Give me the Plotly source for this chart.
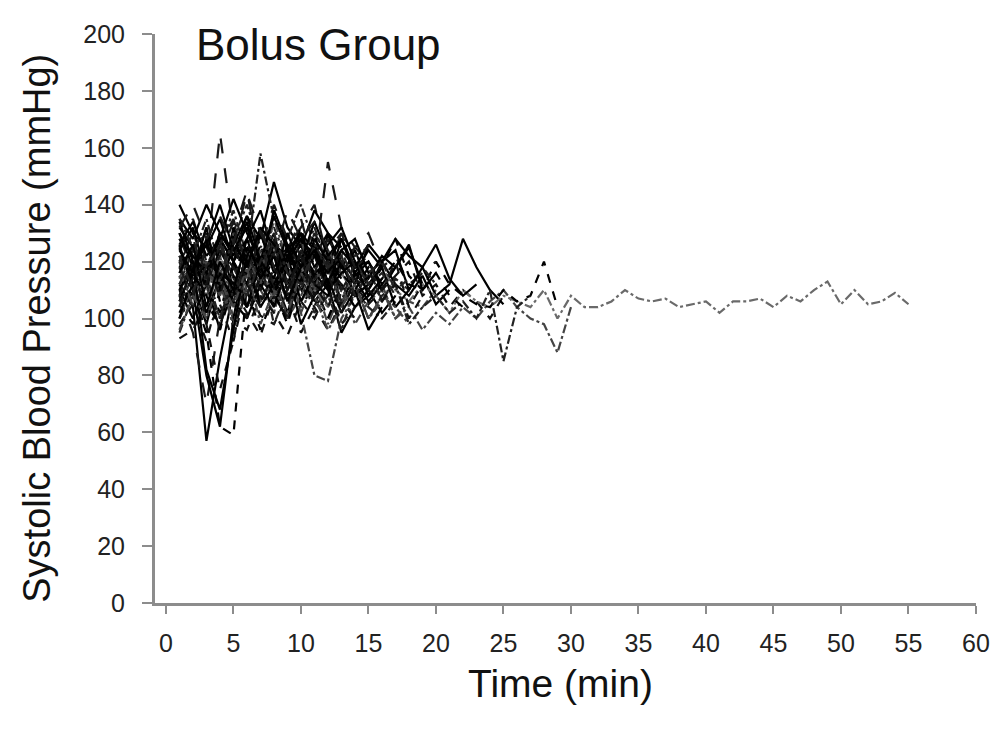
import plotly.graph_objects as go

# minutes at which systolic BP was recorded (each patient starts at minute 1)
minutes = list(range(1, 56))

# Systolic blood pressure (mmHg) per patient, one value per minute
p01 = [118, 125, 112, 130, 108, 121, 115, 127, 110, 119, 124, 113]
p02 = [105, 98, 115, 102, 120, 110, 96, 108, 118, 104, 112, 100, 109]
p03 = [130, 122, 135, 118, 128, 140, 125, 132, 120, 127, 115, 123]
p04 = [112, 104, 57, 86, 110, 120, 106, 115, 102, 118, 110]
p05 = [125, 135, 120, 165, 130, 145, 118, 138, 125, 132, 140, 120, 128, 118]
p06 = [100, 110, 95, 105, 92, 112, 101, 98, 108, 95, 104, 110, 99]
p07 = [122, 115, 128, 110, 132, 120, 112, 126, 118, 122, 108, 130, 115, 124, 112, 118]
p08 = [108, 118, 100, 122, 104, 115, 110, 102, 120, 106, 113, 98, 110, 104, 108, 112, 100, 106, 104, 110]
p09 = [135, 128, 140, 130, 122, 136, 128, 148, 132, 125, 138, 130, 125]
p10 = [115, 108, 95, 62, 59, 112, 118, 105, 122, 110, 116, 104]
p11 = [120, 130, 118, 125, 138, 122, 158, 135, 128, 140, 126, 118, 130, 122, 125]
p12 = [110, 100, 112, 96, 120, 104, 114, 108, 100, 118, 106, 112, 95, 104, 110, 102, 108]
p13 = [128, 118, 132, 112, 126, 120, 130, 116, 124, 135, 118, 155, 132, 125, 120]
p14 = [98, 105, 92, 110, 100, 96, 108, 102, 94, 106, 100, 110, 98, 104]
p15 = [125, 112, 120, 108, 130, 115, 122, 110, 126, 118, 112, 124, 105, 116, 110, 120, 112, 108, 115, 105, 110]
p16 = [104, 115, 108, 120, 100, 112, 118, 106, 114, 102, 80, 78, 100, 108, 112]
p17 = [132, 125, 118, 128, 120, 134, 116, 126, 122, 130, 112, 120, 128, 115, 120, 112, 118]
p18 = [112, 120, 128, 106, 118, 124, 110, 122, 116, 108, 126, 114, 120, 108, 115, 110]
p19 = [95, 108, 115, 100, 112, 104, 120, 98, 110, 116, 102, 108, 96, 110, 104, 100, 106]
p20 = [140, 130, 125, 135, 120, 128, 138, 122, 118, 130, 124, 112, 128, 118, 120, 110, 118, 125, 112]
p21 = [108, 95, 70, 100, 115, 108, 120, 112, 104, 118, 110, 106, 115, 108]
p22 = [118, 110, 125, 115, 105, 120, 112, 128, 108, 116, 122, 110, 118, 112, 105, 110, 115, 120, 108, 112,
       104, 110, 106, 100, 108]
p23 = [124, 132, 115, 128, 120, 112, 130, 118, 125, 114, 122, 130, 118, 112, 126, 120, 128, 122, 118, 108,
       112, 128, 118, 110, 105]
p24 = [100, 112, 104, 118, 96, 110, 106, 114, 100, 108, 118, 104, 112, 98, 106, 110, 100, 104, 96, 102,
       98, 104, 100, 106, 110, 104, 100, 98, 88, 104]
p25 = [112, 118, 110, 122, 108, 115, 120, 106, 112, 118, 110, 104, 116, 108, 112, 118, 110, 106, 112, 108,
       102, 110, 106, 104, 108, 106, 104, 110, 100, 108, 104, 104, 106, 110, 107, 106, 107, 104, 105, 106,
       102, 106, 106, 107, 104, 108, 106, 110, 113, 105, 110, 105, 106, 109, 105]
p26 = [116, 124, 110, 130, 118, 112, 126, 108, 120, 132, 114, 122, 118, 125, 110, 118, 128, 115, 110, 120,
       112, 108, 105, 104, 110, 106, 108, 120, 104]
p27 = [120, 104, 112, 100, 118, 108, 124, 112, 100, 116, 108, 120, 104, 112, 100, 108, 112, 98, 104, 108,
       102, 106, 100, 110, 85, 104, 108]
p28 = [106, 118, 112, 124, 115, 104, 120, 110, 118, 126, 112, 108, 120, 114, 106, 112]
p29 = [130, 120, 112, 126, 135, 118, 124, 140, 128, 116, 130, 122, 118, 125, 130, 118, 122, 112, 116, 120]
p30 = [93, 96, 105, 98, 110, 102, 94, 108, 100, 112, 104, 96, 106, 100]
p31 = [126, 110, 80, 62, 100, 125, 118, 130, 112, 124, 116, 120, 110]
p32 = [114, 126, 118, 108, 130, 122, 112, 135, 120, 128, 110, 124, 116, 120, 112]
p33 = [110, 118, 102, 114, 108, 120, 104, 112, 122, 106, 116, 110, 120, 108, 112, 118, 104, 110]
p34 = [122, 114, 130, 120, 112, 126, 118, 110, 124, 116, 130, 112, 122, 118, 108, 114, 120, 112, 110, 116,
       108, 104]
p35 = [135, 125, 130, 115, 128, 122, 118, 126, 112, 120, 132, 118, 124, 112, 118, 106, 114, 110, 118, 112]
p36 = [102, 112, 98, 116, 106, 100, 112, 104, 118, 98, 108, 114, 102, 110, 96, 104]
p37 = [120, 128, 114, 122, 134, 118, 126, 110, 130, 122, 116, 128, 120, 114]
p38 = [108, 122, 98, 75, 92, 118, 110, 124, 106, 120, 112, 104, 116]
p39 = [130, 118, 126, 140, 124, 132, 118, 138, 126, 120, 134, 122, 128, 116, 124, 118]
p40 = [115, 105, 120, 112, 98, 116, 124, 108, 120, 102, 114, 118, 106, 112, 100, 108, 104, 98]
p41 = [126, 134, 122, 128, 142, 130, 120, 136, 124, 130, 118, 126, 132, 120, 114, 122, 118, 126, 110, 116]
p42 = [100, 116, 108, 96, 112, 104, 120, 110, 98, 114, 106, 100, 112, 104, 108]
p43 = [112, 124, 118, 130, 106, 122, 114, 128, 116, 110, 124, 118, 106, 120, 112, 116, 108]
p44 = [134, 120, 82, 68, 96, 122, 130, 116, 124, 112, 128, 120, 114]
p45 = [118, 108, 126, 114, 120, 110, 132, 118, 106, 124, 114, 120, 110, 118, 122, 106, 114]
p46 = [104, 120, 112, 124, 118, 100, 116, 128, 110, 122, 104, 118, 112, 108, 116, 110, 120, 104, 112]
p47 = [124, 116, 132, 110, 126, 136, 120, 114, 130, 118, 126, 112, 124, 128, 116, 120, 124, 110, 118, 126,
       114, 108, 112]
p48 = [96, 108, 100, 114, 104, 118, 98, 110, 102, 116, 108, 96, 104, 112, 100, 106]
p49 = [128, 122, 116, 130, 124, 118, 132, 126, 120, 128, 122, 116, 124, 118, 126]
p50 = [110, 120, 126, 116, 112, 124, 118, 108, 122, 128, 114, 120, 116, 110, 118, 112]
p51 = [122, 110, 118, 126, 114, 108, 120, 130, 116, 112, 126, 118, 122, 108, 116, 120, 110, 114]
p52 = [116, 126, 104, 120, 110, 128, 114, 122, 106, 118, 124, 110, 116, 120, 108, 114]
p53 = [132, 140, 128, 136, 126, 144, 130, 122, 138, 128, 134, 124, 130, 118, 126]
p54 = [106, 114, 120, 108, 126, 112, 104, 118, 110, 124, 108, 116, 102, 114, 110, 106, 112, 100, 108]

patients = [p01, p02, p03, p04, p05, p06, p07, p08, p09, p10, p11, p12, p13, p14, p15, p16, p17, p18,
            p19, p20, p21, p22, p23, p24, p25, p26, p27, p28, p29, p30, p31, p32, p33, p34, p35, p36,
            p37, p38, p39, p40, p41, p42, p43, p44, p45, p46, p47, p48, p49, p50, p51, p52, p53, p54]

y_ticks = [0, 20, 40, 60, 80, 100, 120, 140, 160, 180, 200]
x_ticks = [0, 5, 10, 15, 20, 25, 30, 35, 40, 45, 50, 55, 60]

dash_styles = ["solid", "dash", "dashdot", "solid", "longdash", "dash", "solid", "dashdot"]
line_colors = ["#000000", "#000000", "#222222", "#000000", "#1a1a1a", "#111111", "#000000", "#444444"]

fig = go.Figure()
for i, vals in enumerate(patients):
    dash = dash_styles[i % len(dash_styles)]
    color = line_colors[i % len(line_colors)]
    if vals is p25:
        dash, color = "dashdot", "#6a6a6a"
    fig.add_trace(go.Scatter(
        x=minutes[:len(vals)], y=vals, mode="lines",
        line=dict(color=color, width=2.2, dash=dash),
        showlegend=False, hoverinfo="skip",
    ))

font_family = "Liberation Sans, Arial, sans-serif"
axis_common = dict(
    showline=True, linecolor="#8c8c8c", linewidth=3,
    ticks="outside", tickwidth=2, tickcolor="#8c8c8c",
    showgrid=False, zeroline=False,
    tickfont=dict(family=font_family, size=25, color="#222222"),
)

fig.update_layout(
    width=1000, height=732,
    paper_bgcolor="white", plot_bgcolor="white",
    margin=dict(l=147, r=32, t=18, b=137),
    font=dict(family=font_family),
    xaxis=dict(range=[-0.81, 60], tickvals=x_ticks, ticklen=8, ticklabelstandoff=8,
               **axis_common),
    yaxis=dict(range=[0, 200], tickvals=y_ticks, ticklen=10, ticklabelstandoff=12,
               **axis_common),
    annotations=[
        dict(text="Bolus Group", xref="paper", yref="paper", x=0.0475, y=0.982,
             xanchor="left", yanchor="middle", showarrow=False,
             font=dict(family=font_family, size=44, color="#111111")),
        dict(text="Time (min)", xref="paper", yref="paper", x=0.4945, y=-0.141,
             xanchor="center", yanchor="middle", showarrow=False,
             font=dict(family=font_family, size=39, color="#111111")),
        dict(text="Systolic Blood Pressure (mmHg)", xref="paper", yref="paper", x=-0.1437, y=0.482,
             xanchor="center", yanchor="middle", showarrow=False, textangle=-90,
             font=dict(family=font_family, size=38, color="#111111")),
    ],
)

fig.write_html("out.html")
